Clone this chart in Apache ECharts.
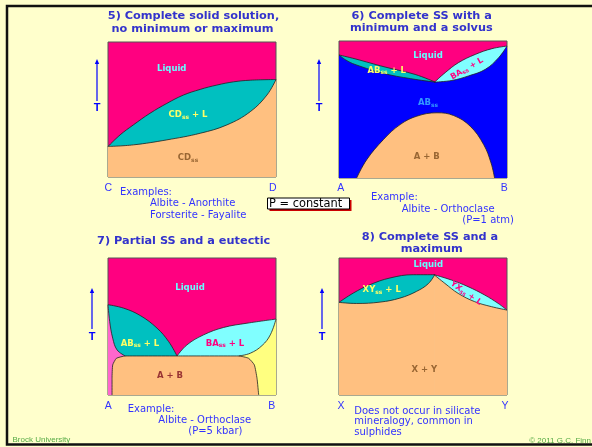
<!DOCTYPE html>
<html><head><meta charset="utf-8">
<script src="https://cdn.jsdelivr.net/npm/echarts@6/dist/echarts.min.js"></script>
<style>html,body{margin:0;padding:0;background:#FFFFCC;}#c{width:592px;height:447px;}</style>
</head><body><div id="c"></div>
<script>
// ---- data (normalized composition x 0..1, temperature T 0..1) ----
var p5Liquidus = [[0,0.226],[0.072,0.312],[0.151,0.386],[0.25,0.472],[0.35,0.545],[0.449,0.607],[0.549,0.649],[0.648,0.681],[0.748,0.705],[0.847,0.717],[1,0.722]];
var p5Solidus  = [[0,0.226],[0.151,0.238],[0.35,0.275],[0.549,0.324],[0.708,0.386],[0.847,0.484],[0.946,0.607],[1,0.722]];

var p6LiqLeft  = [[0,0.898],[0.095,0.870],[0.274,0.810],[0.453,0.756],[0.573,0.70]];
var p6SolLeft  = [[0,0.898],[0.04,0.862],[0.095,0.829],[0.274,0.761],[0.453,0.72],[0.573,0.70]];
var p6LiqRight = [[0.573,0.70],[0.632,0.769],[0.711,0.842],[0.811,0.902],[0.91,0.944],[1,0.963]];
var p6SolRight = [[0.573,0.70],[0.672,0.712],[0.771,0.745],[0.871,0.793],[0.95,0.878],[1,0.963]];
var p6Solvus   = [[0.105,0],[0.165,0.134],[0.264,0.28],[0.364,0.39],[0.463,0.451],[0.583,0.476],[0.682,0.456],[0.781,0.378],[0.861,0.244],[0.905,0.11],[0.926,0]];

var p7LiqLeft  = [[0,0.659],[0.093,0.634],[0.192,0.58],[0.292,0.488],[0.361,0.39],[0.411,0.285]];
var p7SolLeft  = [[0,0.659],[0.010,0.537],[0.028,0.415],[0.054,0.329],[0.103,0.285]];
var p7LiqRight = [[0.411,0.285],[0.47,0.366],[0.569,0.439],[0.688,0.493],[0.827,0.524],[1,0.554]];
var p7SolRight = [[0.778,0.285],[0.847,0.305],[0.917,0.361],[0.966,0.439],[1,0.554]];
var p7Solids   = [[0.024,0],[0.024,0.122],[0.028,0.22],[0.05,0.268],[0.103,0.285],[0.431,0.285],[0.778,0.285],[0.837,0.268],[0.871,0.22],[0.887,0.122],[0.897,0]];

var p8LiqLeft  = [[0,0.676],[0.085,0.744],[0.184,0.805],[0.303,0.854],[0.442,0.878],[0.570,0.878]];
var p8SolLeft  = [[0,0.676],[0.105,0.668],[0.244,0.678],[0.362,0.707],[0.461,0.756],[0.531,0.812],[0.570,0.878]];
var p8LiqRight = [[0.570,0.878],[0.67,0.839],[0.768,0.791],[0.867,0.73],[0.947,0.669],[1,0.62]];
var p8SolRight = [[0.570,0.878],[0.63,0.815],[0.709,0.742],[0.808,0.681],[0.907,0.645],[1,0.62]];

var axisEnds = [['C','D'],['A','B'],['A','B'],['X','Y']];

// ---- styling ----
var PINK='#FF0080', TEAL='#00C0C0', PEACH='#FFC080', BLUE='#0000FF', CYAN='#80FFFF', LPINK='#FF66CC', YEL='#FFFF80';
var TITLE='#3333CC', BODY='#3333FF';
var grids = [
  {left:108, top:42, width:168, height:135},
  {left:339, top:41, width:168, height:137},
  {left:108, top:258, width:168, height:137},
  {left:339, top:258, width:168, height:137}
];
var xAxes=[], yAxes=[], gridOpts=[];
grids.forEach(function(g,i){
  gridOpts.push({left:g.left, top:g.top, width:g.width, height:g.height, show:true,
    backgroundColor:PINK, borderColor:'#555', borderWidth:1});
  xAxes.push({gridIndex:i, type:'value', min:0, max:1, show:false});
  yAxes.push({gridIndex:i, type:'value', min:0, max:1, show:false});
});
// small overlap so two adjacent filled areas leave no anti-aliasing seam at a shared edge
var SEAM = 0.004;
function overlapStart(data){
  return data.map(function(p,i){ return i===0 ? [p[0]-SEAM, p[1]] : p; });
}
function area(data, gi, color, smooth){
  return {type:'line', xAxisIndex:gi, yAxisIndex:gi, data:data, showSymbol:false, symbol:'none',
    smooth: smooth===undefined?0.4:smooth, silent:true, animation:false,
    lineStyle:{color:'#222', width:0.8}, areaStyle:{color:color, opacity:1, origin:'start'}};
}
var series = [
  area(p5Liquidus,0,TEAL), area(p5Solidus,0,PEACH),
  area(p6LiqLeft,1,TEAL), area(overlapStart(p6LiqRight),1,CYAN), area(p6SolLeft,1,BLUE), area(overlapStart(p6SolRight),1,BLUE), area(p6Solvus,1,PEACH),
  area(p7LiqLeft,2,TEAL), area(p7LiqRight,2,CYAN), area(p7SolLeft,2,LPINK), area(p7SolRight,2,YEL), area(p7Solids,2,PEACH,0.15),
  area(p8LiqLeft,3,TEAL), area(overlapStart(p8LiqRight),3,CYAN), area(p8SolLeft,3,PEACH), area(overlapStart(p8SolRight),3,PEACH)
];

// ---- text helpers ----
var G=[];
function txt(s,x,y,font,fill,align,extra){
  var o={type:'text', x:x, y:y, silent:true, z:100, style:{text:s, font:font, fill:fill, align:align||'left', verticalAlign:'middle'}};
  if(extra){ for(var k in extra){ o[k]=extra[k]; } }
  G.push(o);
}
var TF='bold 11.3px "DejaVu Sans"';
var BF='10px "DejaVu Sans"';
var LF='bold 8.5px "DejaVu Sans"';
function rich(parts, x, y, color, rot, size){
  var s = parts.map(function(p){return '{'+(p[1]?'s':'a')+'|'+p[0]+'}';}).join('');
  var fs = size || 8.5;
  G.push({type:'text', x:x, y:y, rotation:rot||0, silent:true, z:100,
    style:{text:s, align:'center', verticalAlign:'middle',
      rich:{a:{font:'bold '+fs+'px "DejaVu Sans"', fill:color, lineHeight:12, verticalAlign:'middle'},
            s:{font:'bold '+(fs*0.7)+'px "DejaVu Sans"', fill:color, lineHeight:12, padding:[4,0,0,0], verticalAlign:'middle'}}}});
}
// titles
txt('5) Complete solid solution,',193.5,16,TF,TITLE,'center');
txt('no minimum or maximum',192.5,29,TF,TITLE,'center');
txt('6) Complete SS with a',421.7,15.7,TF,TITLE,'center');
txt('minimum and a solvus',421.3,28.3,TF,TITLE,'center');
txt('7) Partial SS and a eutectic',183.7,241,TF,TITLE,'center');
txt('8) Complete SS and a',430,236.7,TF,TITLE,'center');
txt('maximum',431.7,249.3,TF,TITLE,'center');
// axis end letters
var endPos=[[108.3,272.7,188],[340.7,504.3,188],[108.3,271.7,406],[341,505,406]];
axisEnds.forEach(function(e,i){
  txt(e[0],endPos[i][0],endPos[i][2],'10.5px "Liberation Sans"',BODY,'center');
  txt(e[1],endPos[i][1],endPos[i][2],'10.5px "Liberation Sans"',BODY,'center');
});
// T arrows
var arrows=[[97,59,101,108],[319,59,101,108],[92,288,329,337],[322,288,329,337]];
arrows.forEach(function(a){
  G.push({type:'line', silent:true, shape:{x1:a[0],y1:a[2],x2:a[0],y2:a[1]+3}, style:{stroke:'#0000FF', lineWidth:1.2}});
  G.push({type:'polygon', silent:true, shape:{points:[[a[0],a[1]],[a[0]-2.2,a[1]+5],[a[0]+2.2,a[1]+5]]}, style:{fill:'#0000FF'}});
  txt('T',a[0],a[3],'bold 11px "Liberation Sans"','#0000FF','center');
});
// examples
txt('Examples:',120,192.7,BF,BODY);
txt('Albite - Anorthite',150,203.8,BF,BODY);
txt('Forsterite - Fayalite',150,215.3,BF,BODY);
txt('Example:',371,197.7,BF,BODY);
txt('Albite - Orthoclase',401.7,209,BF,BODY);
txt('(P=1 atm)',462.3,220.3,BF,BODY);
txt('Example:',127.7,409.3,BF,BODY);
txt('Albite - Orthoclase',158.3,420.7,BF,BODY);
txt('(P=5 kbar)',188.3,431.7,BF,BODY);
txt('Does not occur in silicate',354.3,411,BF,BODY);
txt('mineralogy, common in',354.3,421.9,BF,BODY);
txt('sulphides',354.3,432.8,BF,BODY);
// P = constant box
G.push({type:'rect', silent:true, shape:{x:269.5,y:200,width:82,height:11}, style:{fill:'#CC0000'}});
G.push({type:'rect', silent:true, shape:{x:267.5,y:198,width:82,height:11}, style:{fill:'#FFFFFF', stroke:'#000', lineWidth:1}});
txt('P = constant',269,203.8,'11.4px "DejaVu Sans"','#000');
// footer
txt('Brock University',12.5,440,'8px "Liberation Sans"','#55AA44');
txt('\u00A9 2011 G.C. Finn',591,440.5,'8px "Liberation Sans"','#55AA44','right');
// frame
G.push({type:'polyline', silent:true, z:90, shape:{points:[[600,6],[7,6],[7,444.5],[600,444.5]]}, style:{stroke:'#111', lineWidth:2.5, fill:null}});
// region labels
var LQ='#66FFFF';
txt('Liquid',171.7,68.3,LF,LQ,'center');
rich([['CD'],['ss',1],[' + L']],188,115,'#FFFF66');
rich([['CD'],['ss',1]],188,158,'#996633');
txt('Liquid',428,56,LF,LQ,'center');
rich([['AB'],['ss',1],[' + L']],386.7,70.3,'#FFFF66');
rich([['BA'],['ss',1],[' + L']],467,68.7,PINK,0.52,8);
rich([['AB'],['ss',1]],428,103,'#3399FF');
rich([['A + B']],426.7,156.7,'#996633');
txt('Liquid',190,287.7,LF,LQ,'center');
rich([['AB'],['ss',1],[' + L']],140,343.3,'#FFFF66');
rich([['BA'],['ss',1],[' + L']],225,343.3,PINK);
rich([['A + B']],170,376,'#993333');
txt('Liquid',428.3,265,LF,LQ,'center');
rich([['XY'],['ss',1],[' + L']],381.7,290,'#FFFF66');
rich([['YX'],['ss',1],[' + L']],466,293.2,PINK,-0.61,8);
rich([['X + Y']],424.3,369.3,'#996633');

var chart = echarts.init(document.getElementById('c'), null, {renderer:'canvas'});
chart.setOption({backgroundColor:'#FFFFCC', animation:false, grid:gridOpts, xAxis:xAxes, yAxis:yAxes, series:series, graphic:G});
</script></body></html>
